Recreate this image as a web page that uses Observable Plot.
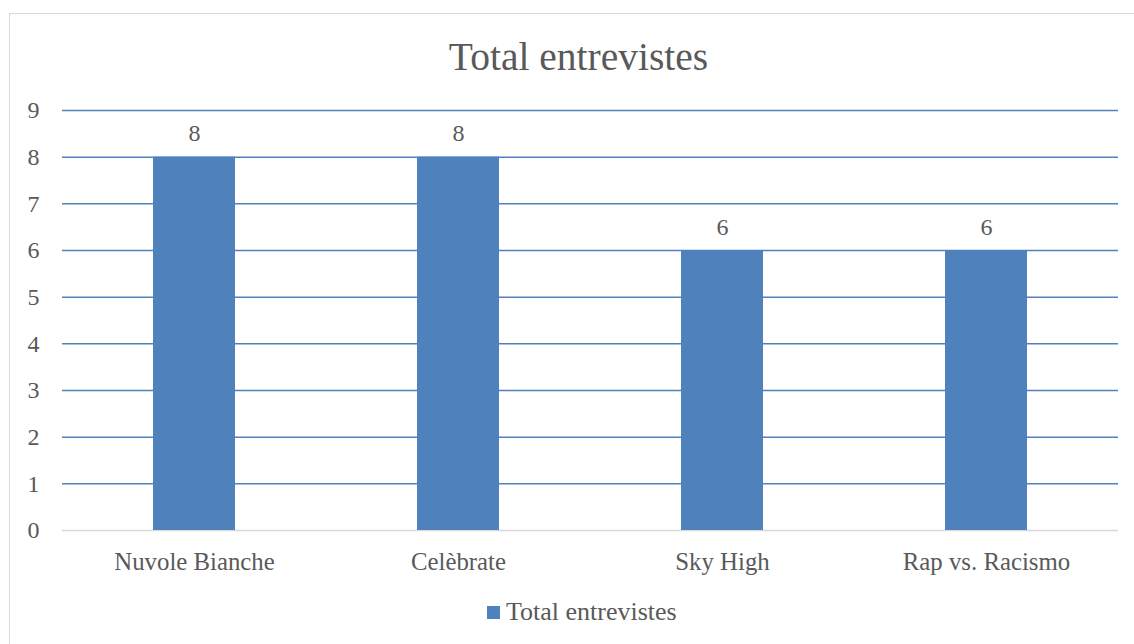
<!DOCTYPE html>
<html>
<head>
<meta charset="utf-8">
<script src="https://cdn.jsdelivr.net/npm/d3@7"></script>
<script src="https://cdn.jsdelivr.net/npm/@observablehq/plot@0.6"></script>
<style>
  html, body { margin: 0; padding: 0; background: #fff; overflow: hidden; }
  body { width: 1134px; height: 644px; position: relative; font-family: "Liberation Serif", serif; color: #595959; }
  #frame { position: absolute; left: 9px; top: 13px; width: 1200px; height: 700px; border: 1px solid #d9d9d9; box-sizing: border-box; }
  #title { position: absolute; left: 0; width: 1157px; top: 38px; text-align: center; font-size: 39.5px; line-height: 39px; }
  #chart { position: absolute; left: 0; top: 90px; }
  #legend { position: absolute; left: 487px; top: 599px; font-size: 26px; line-height: 26px; white-space: nowrap; }
  #legend .sw { position: absolute; left: 0; top: 7px; width: 13px; height: 13px; background: #4f81bd; }
  #legend .lb { position: absolute; left: 19px; top: 0; }
</style>
</head>
<body>
<div id="frame"></div>
<div id="title">Total entrevistes</div>
<div id="chart"></div>
<div id="legend"><span class="sw"></span><span class="lb">Total entrevistes</span></div>
<script>
const categories = ["Nuvole Bianche", "Celèbrate", "Sky High", "Rap vs. Racismo"];
const values = [8, 8, 6, 6];
const yTicks = [0, 1, 2, 3, 4, 5, 6, 7, 8, 9];
const seriesName = "Total entrevistes";

const data = categories.map((c, i) => ({category: c, value: values[i]}));

const chart = Plot.plot({
  width: 1134,
  height: 500,
  marginLeft: 62,
  marginRight: 16,
  marginTop: 20,
  marginBottom: 60,
  style: {fontFamily: "'Liberation Serif', serif", fontSize: "24px", color: "#595959", background: "transparent"},
  x: {domain: categories, paddingInner: 0.69, paddingOuter: 0.345, label: null},
  y: {domain: [0, 9], label: null},
  marks: [
    Plot.ruleY(yTicks.filter(d => d > 0), {stroke: "#4f81bd", strokeWidth: 1.5}),
    Plot.ruleY([0], {stroke: "#d9d9d9", strokeWidth: 1.5}),
    Plot.barY(data, {x: "category", y: "value", fill: "#4f81bd"}),
    Plot.text(data, {x: "category", y: "value", text: d => String(d.value), lineAnchor: "bottom", dy: -16, fill: "#595959", fontSize: 24}),
    Plot.axisY({ticks: yTicks, tickSize: 0, tickPadding: 23, tickFormat: d => String(d), fill: "#595959", fontSize: 24}),
    Plot.axisX({tickSize: 0, tickPadding: 22, fill: "#595959", fontSize: 24.8})
  ]
});
document.getElementById("chart").appendChild(chart);
</script>
</body>
</html>
